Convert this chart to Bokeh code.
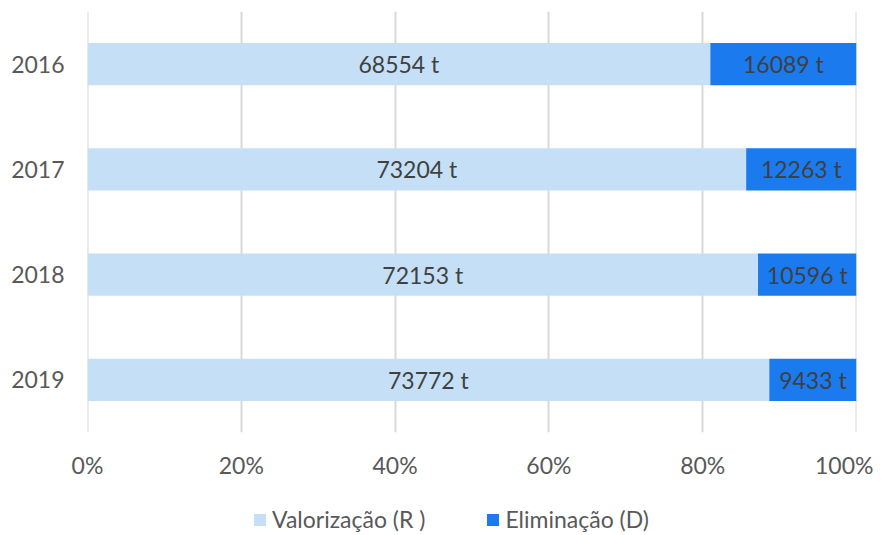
from bokeh.plotting import figure
from bokeh.layouts import column
from bokeh.models import (ColumnDataSource, FixedTicker, NumeralTickFormatter, Legend,
                          LegendItem, Range1d, FactorRange, Span)
from bokeh.core.properties import value
from bokeh.embed import file_html
from bokeh.resources import INLINE

years = ["2016", "2017", "2018", "2019"]
valorizacao = [68554, 73204, 72153, 73772]
eliminacao = [16089, 12263, 10596, 9433]
x_ticks = [0, 0.2, 0.4, 0.6, 0.8, 1.0]
series_names = ["Valorização (R )", "Eliminação (D)"]

FONT = "Lato"
FS = "23px"
C_LIGHT = "#C5E0F6"
C_DARK = "#1A7AEE"
GRID = "#D9D9D9"

tot = [a + b for a, b in zip(valorizacao, eliminacao)]
fr = [a / t for a, t in zip(valorizacao, tot)]
src = ColumnDataSource(dict(
    y=years,
    r_right=fr,
    d_left=fr,
    ones=[1.0] * len(years),
    zeros=[0.0] * len(years),
    r_mid=[f / 2 for f in fr],
    d_mid=[(f + 1) / 2 for f in fr],
    r_lab=[f"{v} t" for v in valorizacao],
    d_lab=[f"{v} t" for v in eliminacao],
))

p = figure(width=873, height=481, output_backend="svg", toolbar_location=None,
           y_range=FactorRange(factors=years[::-1], range_padding=0),
           x_range=Range1d(0, 1))
p.min_border_left = 87
p.min_border_right = 17
p.min_border_top = 11
p.min_border_bottom = 44
p.outline_line_color = None
p.background_fill_color = "white"
p.border_fill_color = "white"

p.xaxis.ticker = FixedTicker(ticks=x_ticks)
p.xaxis.formatter = NumeralTickFormatter(format="0%")
p.xgrid.ticker = FixedTicker(ticks=x_ticks)
p.xgrid.grid_line_color = GRID
p.xgrid.grid_line_width = 2
p.ygrid.grid_line_color = None
for loc in (x_ticks[0], x_ticks[-1]):
    p.add_layout(Span(location=loc, dimension="height", line_color=GRID,
                      line_width=2, level="underlay"))

p.hbar(y="y", left="zeros", right="r_right", height=0.4, source=src,
       fill_color=C_LIGHT, line_color=None)
p.hbar(y="y", left="d_left", right="ones", height=0.4, source=src,
       fill_color=C_DARK, line_color=None)

for xcol, tcol in (("r_mid", "r_lab"), ("d_mid", "d_lab")):
    p.text(x=xcol, y="y", text=tcol, source=src, text_align="center",
           text_baseline="middle", text_font=value(FONT),
           text_font_size=FS, text_color="#404040")

for ax in (p.xaxis[0], p.yaxis[0]):
    ax.axis_line_color = None
    ax.major_tick_line_color = None
    ax.minor_tick_line_color = None
    ax.major_tick_out = 0
    ax.major_tick_in = 0
    ax.minor_tick_out = 0
    ax.major_label_text_font = FONT
    ax.major_label_text_font_size = FS
    ax.major_label_text_color = "#595959"
p.xaxis.major_label_standoff = 18
p.yaxis.major_label_standoff = 23

# legend strip below the chart (its frame is aligned with the chart frame)
lg = figure(width=873, height=52, output_backend="svg", toolbar_location=None,
            x_axis_type=None, y_axis_type=None, x_range=Range1d(0, 1), y_range=Range1d(0, 1))
lg.min_border = 0
lg.outline_line_color = None
lg.xgrid.visible = False
lg.ygrid.visible = False
lg.border_fill_color = "white"
# swatch renderers kept outside the visible range; only their legend glyphs show
dummy = ColumnDataSource(dict(l=[2], r=[3], b=[2], t=[3]))
g1 = lg.quad(left="l", right="r", bottom="b", top="t", source=dummy,
             fill_color=C_LIGHT, line_color=None)
g2 = lg.quad(left="l", right="r", bottom="b", top="t", source=dummy,
             fill_color=C_DARK, line_color=None)
legend = Legend(items=[LegendItem(label=series_names[0], renderers=[g1]),
                       LegendItem(label=series_names[1], renderers=[g2])],
                orientation="horizontal", location=(165, 0),
                label_text_font=FONT, label_text_font_size=FS,
                label_text_color="#595959", glyph_width=15, glyph_height=15,
                spacing=60, border_line_color=None, background_fill_alpha=0,
                label_standoff=5, margin=0, padding=0)
lg.add_layout(legend, "center")

layout = column(p, lg, spacing=0)
open("out.html", "w").write(file_html(layout, INLINE))
